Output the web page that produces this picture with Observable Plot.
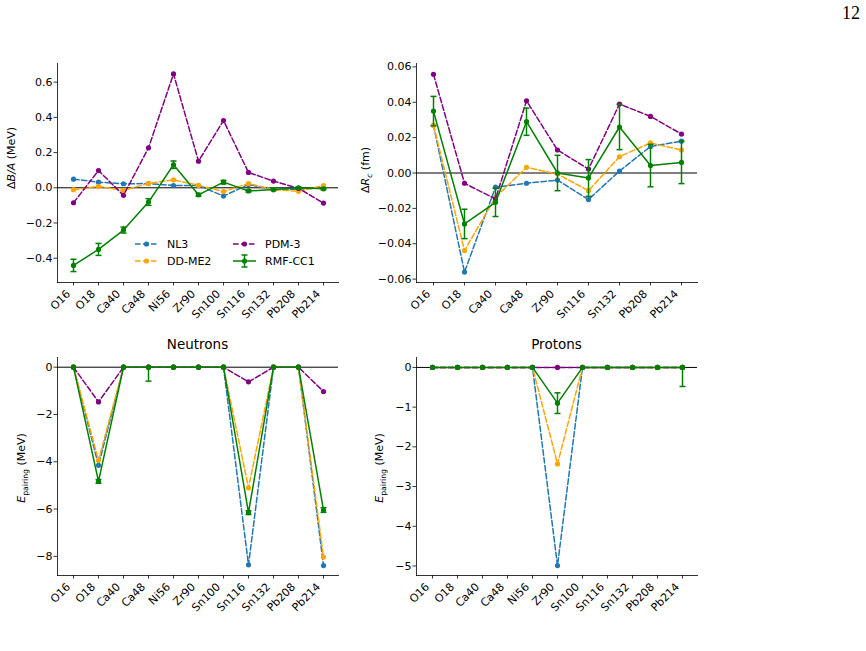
<!DOCTYPE html>
<html>
<head>
<meta charset="utf-8">
<script src="https://cdn.jsdelivr.net/npm/d3@7"></script>
<script src="https://cdn.jsdelivr.net/npm/@observablehq/plot@0.6"></script>
<style>
  html, body { margin: 0; padding: 0; background: #fff; }
  #page { position: relative; width: 866px; height: 651px; overflow: hidden; background: #fff; }
  .panel { position: absolute; }
  #pagenum { position: absolute; right: 6px; top: 3px; font-family: "Liberation Serif", "DejaVu Serif", serif; font-size: 18px; color: #000; }
</style>
</head>
<body>
<div id="page">
  <div id="pagenum">12</div>
</div>
<script>
// Nuclei on the x axes
const isotopes = ["O16", "O18", "Ca40", "Ca48", "Ni56", "Zr90", "Sn100", "Sn116", "Sn132", "Pb208", "Pb214"];
const radiusIsotopes = ["O16", "O18", "Ca40", "Ca48", "Zr90", "Sn116", "Sn132", "Pb208", "Pb214"];

// Binding energy per nucleon residuals, ΔB/A (MeV)
const bindingNL3   = [0.049, 0.032, 0.023, 0.024, 0.013, 0.013, -0.047, 0.019, -0.011, -0.008, 0.000];
const bindingDDME2 = [-0.011, 0.008, -0.015, 0.025, 0.045, 0.014, -0.021, 0.024, -0.010, -0.020, 0.013];
const bindingPDM3  = [-0.085, 0.098, -0.043, 0.227, 0.647, 0.151, 0.382, 0.087, 0.038, -0.003, -0.087];
const bindingCC1   = [-0.441, -0.350, -0.240, -0.081, 0.131, -0.040, 0.032, -0.018, -0.010, 0.000, -0.006];
const bindingCC1Err = [0.035, 0.034, 0.017, 0.019, 0.021, 0.008, 0.010, 0.006, 0.005, 0.004, 0.005];

// Charge radius residuals, ΔR_c (fm)
const radiusNL3   = [0.027, -0.056, -0.008, -0.0058, -0.004, -0.015, 0.0011, 0.015, 0.018];
const radiusDDME2 = [0.027, -0.0438, -0.0137, 0.0032, -0.0006, -0.010, 0.0092, 0.017, 0.013];
const radiusPDM3  = [0.0558, -0.0058, -0.0147, 0.0408, 0.013, 0.0022, 0.039, 0.032, 0.022];
const radiusCC1   = [0.035, -0.0288, -0.0166, 0.029, 0.0000, -0.0028, 0.026, 0.0042, 0.006];
const radiusCC1Err = [0.0083, 0.0083, 0.0080, 0.0077, 0.0100, 0.0104, 0.0128, 0.0120, 0.0120];

// Neutron pairing energies (MeV)
const neutronNL3   = [0, -4.15, 0, 0, 0, 0, 0, -8.36, 0, 0, -8.39];
const neutronDDME2 = [0, -3.94, 0, 0, 0, 0, 0, -5.10, 0, 0, -8.03];
const neutronPDM3  = [0, -1.47, 0, 0, 0, 0, 0, -0.62, 0, 0, -1.03];
const neutronCC1   = [0, -4.83, 0, 0, 0, 0, 0, -6.15, 0, 0, -6.04];
const neutronCC1ErrLow  = [0, 0.08, 0, 0.59, 0, 0, 0, 0.08, 0, 0, 0.10];
const neutronCC1ErrHigh = [0, 0.08, 0, 0, 0, 0, 0, 0.08, 0, 0, 0.10];

// Proton pairing energies (MeV)
const protonNL3   = [0, 0, 0, 0, 0, -4.99, 0, 0, 0, 0, 0];
const protonDDME2 = [0, 0, 0, 0, 0, -2.43, 0, 0, 0, 0, 0];
const protonPDM3  = [0, 0, 0, 0, 0, 0, 0, 0, 0, 0, 0];
const protonCC1   = [0, 0, 0, 0, 0, -0.90, 0, 0, 0, 0, 0];
const protonCC1ErrLow  = [0, 0, 0, 0, 0, 0.26, 0, 0, 0, 0, 0.48];
const protonCC1ErrHigh = [0, 0, 0, 0, 0, 0.26, 0, 0, 0, 0, 0];

const modelColors = {"NL3": "#1f77b4", "DD-ME2": "#ffa500", "PDM-3": "#800080", "RMF-CC1": "#008000"};

const DASH = "5.55,2.4";
const FONT = "DejaVu Sans, Liberation Sans, sans-serif";
const TICK_FONT = 11;

// short horizontal stroke used as an error-bar cap
const capSymbol = { draw(ctx) { ctx.moveTo(-3, 0); ctx.lineTo(3, 0); } };

function rows(cats, values) {
  return cats.map((iso, i) => ({iso, v: values[i]}));
}

function errRows(cats, values, lo, hi) {
  return cats.map((iso, i) => ({iso, v: values[i], lo: values[i] - lo[i], hi: values[i] + hi[i], e: lo[i] + hi[i]}))
    .filter(d => d.e > 0);
}

function makePanel(cfg) {
  const {cats, series, err, yDomain, yTicks, fmt, width, height, margin, padding} = cfg;
  const marks = [
    Plot.ruleY([0], {stroke: "#000", strokeWidth: 1})
  ];
  for (const name of ["NL3", "DD-ME2", "PDM-3"]) {
    const data = rows(cats, series[name]);
    marks.push(Plot.line(data, {x: "iso", y: "v", stroke: modelColors[name], strokeWidth: 1.5, strokeDasharray: DASH}));
    marks.push(Plot.dot(data, {x: "iso", y: "v", r: 2.6, fill: modelColors[name], stroke: "none"}));
  }
  const cc1 = rows(cats, series["RMF-CC1"]);
  const green = modelColors["RMF-CC1"];
  marks.push(Plot.line(cc1, {x: "iso", y: "v", stroke: green, strokeWidth: 1.5}));
  const eb = errRows(cats, series["RMF-CC1"], err.lo, err.hi);
  marks.push(Plot.ruleX(eb, {x: "iso", y1: "lo", y2: "hi", stroke: green, strokeWidth: 1.5}));
  marks.push(Plot.dot(eb, {x: "iso", y: "lo", symbol: capSymbol, stroke: green, strokeWidth: 1.5, fill: "none"}));
  marks.push(Plot.dot(eb, {x: "iso", y: "hi", symbol: capSymbol, stroke: green, strokeWidth: 1.5, fill: "none"}));
  marks.push(Plot.dot(cc1, {x: "iso", y: "v", r: 2.6, fill: green, stroke: "none"}));
  // spines
  marks.push(Plot.frame({anchor: "left", stroke: "#000", strokeWidth: 0.8}));
  marks.push(Plot.frame({anchor: "bottom", stroke: "#000", strokeWidth: 0.8}));
  marks.push(Plot.axisY({ticks: yTicks, tickFormat: d3.format(fmt), tickSize: 3.5, tickPadding: 1.5, strokeWidth: 0.8, label: null, fontSize: TICK_FONT}));
  // x tick marks, then the rotated nucleus names
  marks.push(Plot.axisX({tickSize: 3.5, strokeWidth: 0.8, label: null, tickFormat: () => ""}));
  marks.push(Plot.axisX({tickRotate: -45, tickSize: 0, tickPadding: 5.5, label: null, fontSize: TICK_FONT, dx: -5, dy: 4}));

  return Plot.plot({
    width, height,
    marginLeft: margin[3], marginRight: margin[1], marginTop: margin[0], marginBottom: margin[2],
    x: {type: "point", domain: cats, padding, align: 0.5},
    y: {domain: yDomain},
    style: {fontFamily: FONT, fontSize: TICK_FONT + "px", color: "#000", background: "transparent", overflow: "visible"},
    marks
  });
}

function place(svg, left, top) {
  const div = document.createElement("div");
  div.className = "panel";
  div.style.left = left + "px";
  div.style.top = top + "px";
  div.appendChild(svg);
  document.getElementById("page").appendChild(div);
  return d3.select(svg);
}

// rotated y-axis label; each part is [text, style] with style "", "i" (italic) or "sub"/"isub" (subscript)
function yLabel(sel, x, y, parts) {
  const t = sel.append("text")
    .attr("transform", `translate(${x},${y}) rotate(-90)`)
    .attr("text-anchor", "middle")
    .attr("font-family", FONT)
    .attr("font-size", TICK_FONT)
    .attr("fill", "#000");
  let inSub = false;
  for (const [s, st] of parts) {
    const sp = t.append("tspan").text(s);
    if (st.startsWith("i")) sp.attr("font-style", "italic");
    const sub = st.endsWith("sub");
    if (sub) sp.attr("font-size", TICK_FONT * 0.7);
    if (sub && !inSub) sp.attr("dy", 3);
    if (!sub && inSub) sp.attr("dy", -3);
    inSub = sub;
  }
  return t;
}

function title(sel, x, y, s) {
  sel.append("text").attr("x", x).attr("y", y).attr("text-anchor", "middle")
    .attr("font-family", FONT).attr("font-size", 13.5).attr("fill", "#000").text(s);
}

// Panel 1: binding energies
const p1 = makePanel({
  cats: isotopes,
  series: {"NL3": bindingNL3, "DD-ME2": bindingDDME2, "PDM-3": bindingPDM3, "RMF-CC1": bindingCC1},
  err: {lo: bindingCC1Err, hi: bindingCC1Err},
  yDomain: [-0.538, 0.706], yTicks: [-0.4, -0.2, 0, 0.2, 0.4, 0.6], fmt: ".1f",
  width: 345, height: 300, margin: [13, 7, 68, 57], padding: 0.5
});
const s1 = place(p1, 0, 50);
yLabel(s1, 15, 108, [["Δ", ""], ["B/A", "i"], [" (MeV)", ""]]);

// legend
const legend = s1.append("g").attr("font-family", FONT).attr("font-size", TICK_FONT).attr("text-anchor", "start");
const legendItems = [
  {name: "NL3", x: 135, y: 194}, {name: "DD-ME2", x: 135, y: 211},
  {name: "PDM-3", x: 233, y: 194}, {name: "RMF-CC1", x: 233, y: 211}
];
for (const it of legendItems) {
  const c = modelColors[it.name];
  const solid = it.name === "RMF-CC1";
  legend.append("line").attr("x1", it.x).attr("x2", it.x + 23).attr("y1", it.y).attr("y2", it.y)
    .attr("stroke", c).attr("stroke-width", 1.5).attr("stroke-dasharray", solid ? null : DASH);
  if (solid) {
    const cx = it.x + 11.5;
    legend.append("line").attr("x1", cx).attr("x2", cx).attr("y1", it.y - 6).attr("y2", it.y + 6).attr("stroke", c).attr("stroke-width", 1.5);
    legend.append("line").attr("x1", cx - 3).attr("x2", cx + 3).attr("y1", it.y - 6).attr("y2", it.y - 6).attr("stroke", c).attr("stroke-width", 1.5);
    legend.append("line").attr("x1", cx - 3).attr("x2", cx + 3).attr("y1", it.y + 6).attr("y2", it.y + 6).attr("stroke", c).attr("stroke-width", 1.5);
  }
  legend.append("circle").attr("cx", it.x + 11.5).attr("cy", it.y).attr("r", 2.6).attr("fill", c);
  legend.append("text").attr("x", it.x + 32).attr("y", it.y).attr("dy", "0.35em").attr("fill", "#000").text(it.name);
}

// Panel 2: charge radii
const p2 = makePanel({
  cats: radiusIsotopes,
  series: {"NL3": radiusNL3, "DD-ME2": radiusDDME2, "PDM-3": radiusPDM3, "RMF-CC1": radiusCC1},
  err: {lo: radiusCC1Err, hi: radiusCC1Err},
  yDomain: [-0.0619, 0.0619], yTicks: [-0.06, -0.04, -0.02, 0, 0.02, 0.04, 0.06], fmt: ".2f",
  width: 360, height: 300, margin: [13, 8, 68, 71], padding: 0.4
});
const s2 = place(p2, 345, 50);
yLabel(s2, 24, 120, [["Δ", ""], ["R", "i"], ["c", "isub"], [" (fm)", ""]]);

// Panel 3: neutron pairing
const p3 = makePanel({
  cats: isotopes,
  series: {"NL3": neutronNL3, "DD-ME2": neutronDDME2, "PDM-3": neutronPDM3, "RMF-CC1": neutronCC1},
  err: {lo: neutronCC1ErrLow, hi: neutronCC1ErrHigh},
  yDomain: [-8.81, 0.41], yTicks: [-8, -6, -4, -2, 0], fmt: "d",
  width: 345, height: 300, margin: [32, 7, 50, 57], padding: 0.5
});
const s3 = place(p3, 0, 325);
yLabel(s3, 25, 143, [["E", "i"], ["pairing", "sub"], [" (MeV)", ""]]);
title(s3, 197.5, 24, "Neutrons");

// Panel 4: proton pairing
const p4 = makePanel({
  cats: isotopes,
  series: {"NL3": protonNL3, "DD-ME2": protonDDME2, "PDM-3": protonPDM3, "RMF-CC1": protonCC1},
  err: {lo: protonCC1ErrLow, hi: protonCC1ErrHigh},
  yDomain: [-5.24, 0.25], yTicks: [-5, -4, -3, -2, -1, 0], fmt: "d",
  width: 360, height: 300, margin: [32, 8, 50, 71], padding: 0.5
});
const s4 = place(p4, 345, 325);
yLabel(s4, 38, 143, [["E", "i"], ["pairing", "sub"], [" (MeV)", ""]]);
title(s4, 211.5, 24, "Protons");
</script>
</body>
</html>
